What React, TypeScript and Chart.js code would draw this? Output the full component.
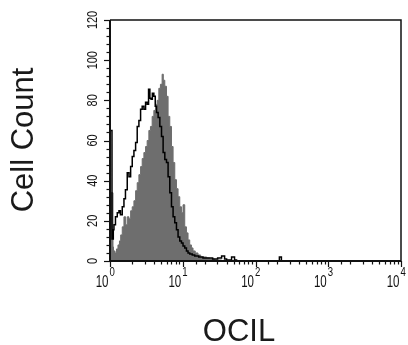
import React, { useEffect, useRef } from "react";
import { Chart, registerables } from "chart.js";

Chart.register(...registerables);

// Open (isotype control) histogram: fluorescence intensity and cell counts
const OPEN_FLUOR = [
  1.0, 1.065, 1.11, 1.134, 1.189, 1.259, 1.328, 1.392, 1.474, 1.555, 1.631, 1.726, 1.821, 1.921,
  2.021, 2.132, 2.249, 2.366, 2.496, 2.633, 2.77, 2.923, 3.083, 3.243, 3.389, 3.531, 3.667, 3.821,
  4.006, 4.187, 4.363, 4.587, 4.841, 5.107, 5.372, 5.667, 5.979, 6.288, 6.636, 7.001, 7.363, 7.768,
  8.197, 8.622, 9.097, 9.598, 10.09, 10.65, 11.24, 11.82, 12.47, 13.5, 14.6, 16.57, 18.97, 22.0,
  25.76, 30.17, 34.2, 37.6, 40.07, 46.9, 51.5, 54.9, 70.6, 213, 227, 242, 10000,
];
const OPEN_COUNT = [
  95, 65, 11, 15.5, 18, 22, 24, 25, 23, 27, 31, 35.5, 44, 42,
  47, 52, 55, 59, 67, 70, 75.5, 77, 75.5, 79, 78, 85.5, 81, 80.5,
  83.5, 82, 77, 74, 71.5, 67, 62, 54, 50.5, 49, 42, 34, 27, 22,
  19, 15.5, 12, 10, 9, 7.5, 6.5, 5, 4, 3.5, 3, 2.5, 2, 1.5,
  1.5, 1, 1.5, 2.5, 1, 0.5, 2, 0.5, 0, 0, 2, 0, 0,
];

// Filled (OCIL stained) histogram
const FILLED_FLUOR = [
  1.0, 1.099, 1.117, 1.171, 1.227, 1.287, 1.349, 1.402, 1.474, 1.555, 1.641, 1.726, 1.821, 1.921,
  2.021, 2.132, 2.249, 2.366, 2.496, 2.633, 2.77, 2.923, 3.083, 3.243, 3.421, 3.599, 3.798, 4.006,
  4.227, 4.446, 4.691, 4.934, 5.205, 5.405, 5.667, 5.979, 6.288, 6.636, 7.001, 7.363, 7.768, 8.197,
  8.622, 9.097, 9.598, 10.09, 10.65, 11.24, 11.82, 12.47, 13.16, 13.84, 14.84, 16.2, 17.64, 18.97,
  21.32, 23.4, 27.44, 34.2, 41.35, 10000,
];
const FILLED_COUNT = [
  34, 34, 7, 5, 4, 6, 8, 10, 13, 17, 22, 18, 22, 21,
  25, 27, 30, 35, 39, 43, 47, 51, 54, 57, 60, 65, 67, 72,
  75, 78, 80, 86, 88, 93, 90, 87, 82, 72, 67, 57, 49, 40.5,
  36, 32, 27, 24, 28, 17, 14, 10.5, 8, 6.5, 5, 4, 3, 2,
  2, 1.5, 1, 0.5, 0, 0,
];

const X_EXPONENTS = ["0", "1", "2", "3", "4"];
const Y_LABELS = [0, 20, 40, 60, 80, 100, 120];
const X_TITLE = "OCIL";
const Y_TITLE = "Cell Count";

const FONT = "'Liberation Sans', Arial, Helvetica, sans-serif";

const axesPlugin = {
  id: "flowAxes",
  afterDraw(chart: any) {
    const ctx: CanvasRenderingContext2D = chart.ctx;
    const xs = chart.scales.x;
    const ys = chart.scales.y;
    const { left, right, top, bottom } = chart.chartArea;
    ctx.save();
    ctx.strokeStyle = "#111";
    ctx.fillStyle = "#111";

    // frame
    ctx.lineWidth = 1.5;
    ctx.beginPath();
    ctx.moveTo(left, top);
    ctx.lineTo(right, top);
    ctx.lineTo(right, bottom);
    ctx.stroke();
    ctx.lineWidth = 2;
    ctx.beginPath();
    ctx.moveTo(left, top);
    ctx.lineTo(left, bottom);
    ctx.lineTo(right, bottom);
    ctx.stroke();

    // y ticks
    ctx.lineWidth = 1.2;
    ys.ticks.forEach((t: any) => {
      const y = Math.round(ys.getPixelForValue(t.value)) + 0.5;
      const major = t.value % 20 === 0;
      ctx.beginPath();
      ctx.moveTo(left, y);
      ctx.lineTo(left - (major ? 6 : 3.5), y);
      ctx.stroke();
    });
    // x ticks
    xs.ticks.forEach((t: any) => {
      const x = Math.round(xs.getPixelForValue(t.value)) + 0.5;
      const lg = Math.log10(t.value);
      const major = Math.abs(lg - Math.round(lg)) < 1e-6;
      ctx.beginPath();
      ctx.moveTo(x, bottom);
      ctx.lineTo(x, bottom + (major ? 6 : 3.5));
      ctx.stroke();
    });

    // y labels (rotated)
    Y_LABELS.forEach((v) => {
      const y = ys.getPixelForValue(v);
      ctx.save();
      ctx.translate(97, y);
      ctx.rotate(-Math.PI / 2);
      ctx.scale(0.78, 1);
      ctx.font = `14px ${FONT}`;
      ctx.textAlign = "center";
      ctx.textBaseline = "alphabetic";
      ctx.fillText(String(v), 0, 0);
      ctx.restore();
    });

    // x labels 10^n
    X_EXPONENTS.forEach((e) => {
      const x = xs.getPixelForValue(Math.pow(10, Number(e)));
      ctx.save();
      ctx.translate(x - 1.5, 287);
      ctx.scale(0.72, 1);
      ctx.font = `16px ${FONT}`;
      ctx.textAlign = "right";
      ctx.textBaseline = "alphabetic";
      ctx.fillText("10", 0, 0);
      ctx.restore();
      ctx.save();
      ctx.translate(x - 0.5, 276);
      ctx.scale(0.8, 1);
      ctx.font = `12px ${FONT}`;
      ctx.textAlign = "left";
      ctx.textBaseline = "alphabetic";
      ctx.fillText(e, 0, 0);
      ctx.restore();
    });

    // titles
    ctx.font = `31px ${FONT}`;
    ctx.textAlign = "center";
    ctx.textBaseline = "alphabetic";
    ctx.fillStyle = "#1a1a1a";
    ctx.fillText(X_TITLE, 239, 341);
    ctx.save();
    ctx.translate(33, 140);
    ctx.rotate(-Math.PI / 2);
    ctx.fillText(Y_TITLE, 0, 0);
    ctx.restore();

    ctx.restore();
  },
};

export default function App() {
  const ref = useRef<HTMLCanvasElement | null>(null);
  useEffect(() => {
    if (!ref.current) return;
    const chart = new Chart(ref.current, {
      type: "line",
      data: {
        datasets: [
          {
            label: "isotype",
            data: OPEN_FLUOR.map((x, i) => ({ x, y: OPEN_COUNT[i] })),
            borderColor: "#000",
            borderWidth: 1.5,
            pointRadius: 0,
            stepped: "after",
            fill: false,
            order: 0,
          },
          {
            label: "OCIL",
            data: FILLED_FLUOR.map((x, i) => ({ x, y: FILLED_COUNT[i] })),
            borderColor: "#6e6e6e",
            backgroundColor: "#6e6e6e",
            borderWidth: 1,
            pointRadius: 0,
            stepped: "after",
            fill: "origin",
            order: 1,
          },
        ],
      },
      options: {
        responsive: false,
        animation: false,
        devicePixelRatio: 1,
        layout: { padding: { top: 20, right: 7, left: 0, bottom: 0 } },
        plugins: { legend: { display: false }, tooltip: { enabled: false } },
        scales: {
          x: {
            type: "logarithmic",
            min: 1,
            max: 10000,
            ticks: { display: false },
            grid: { display: false },
            border: { display: false },
            afterFit: (s: any) => {
              s.height = 84;
            },
          },
          y: {
            type: "linear",
            min: 0,
            max: 120,
            ticks: { display: false, stepSize: 4 },
            grid: { display: false },
            border: { display: false },
            afterFit: (s: any) => {
              s.width = 110;
            },
          },
        },
      },
      plugins: [axesPlugin],
    } as any);
    return () => chart.destroy();
  }, []);
  return (
    <div style={{ position: "fixed", left: 0, top: 0, width: 408, height: 345, background: "#fff" }}>
      <canvas ref={ref} width={408} height={345} style={{ width: 408, height: 345 }} />
    </div>
  );
}
